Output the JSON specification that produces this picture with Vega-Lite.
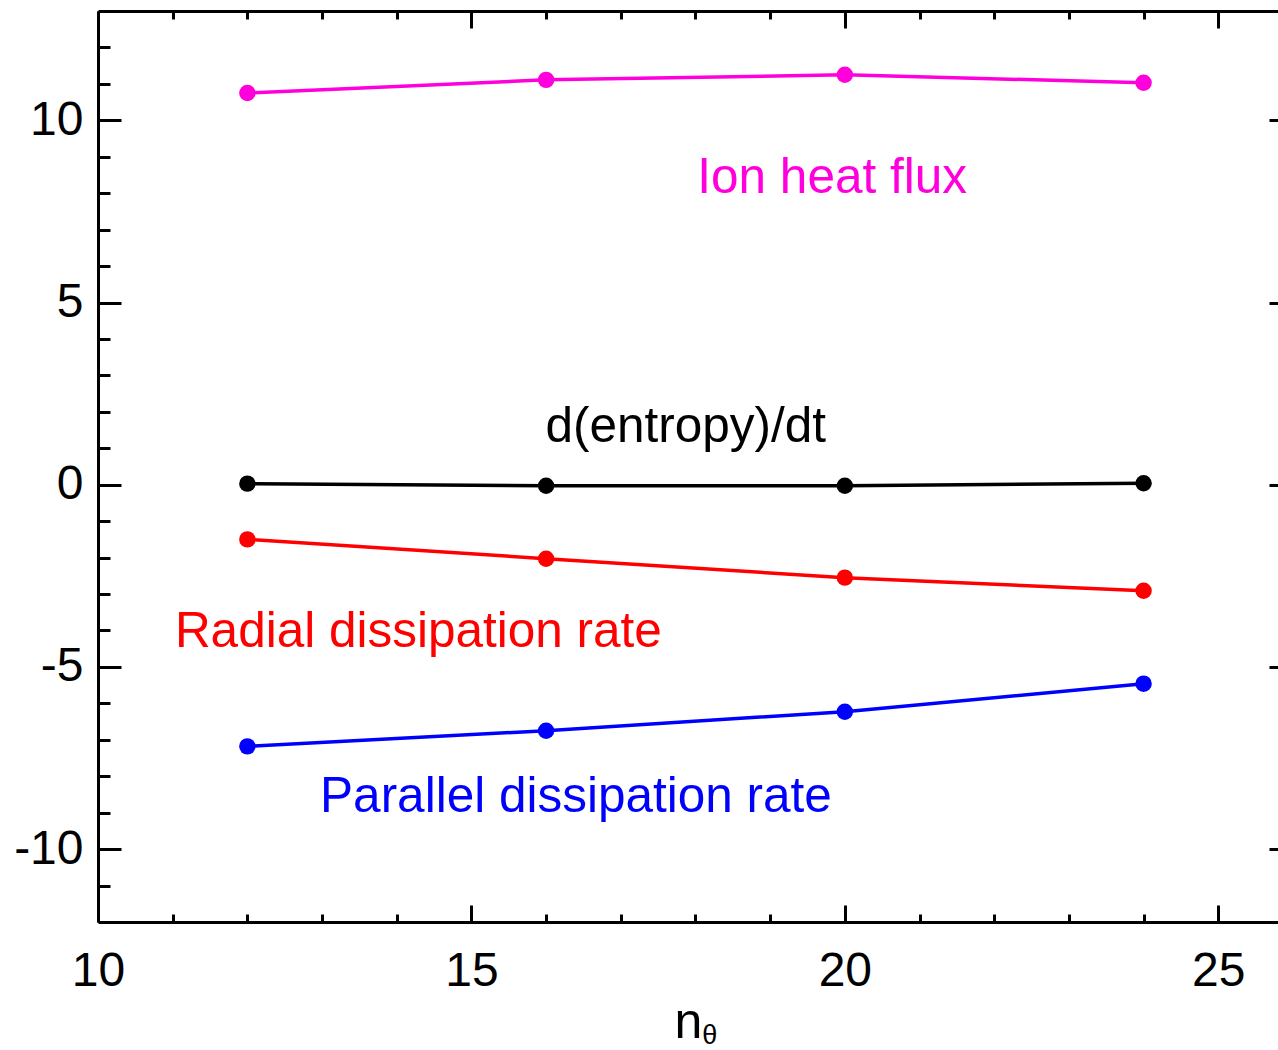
{
  "$schema": "https://vega.github.io/schema/vega-lite/v6.json",
  "width": 1180,
  "height": 911,
  "autosize": {"type": "none"},
  "padding": {"left": 98, "top": 11, "right": 0, "bottom": 128},
  "background": "white",
  "config": {
    "view": {"stroke": null},
    "font": "Liberation Sans",
    "axis": {
      "grid": false,
      "domainColor": "black",
      "tickColor": "black",
      "labelColor": "black",
      "titleColor": "black",
      "labelFont": "Liberation Sans",
      "titleFont": "Liberation Sans",
      "labelFlush": false,
      "labelOverlap": false,
      "tickWidth": 3,
      "domainWidth": 3
    }
  },
  "datasets": {
    "series": [
      {"series": "Ion heat flux", "n": 12, "value": 10.75},
      {"series": "Ion heat flux", "n": 16, "value": 11.11},
      {"series": "Ion heat flux", "n": 20, "value": 11.25},
      {"series": "Ion heat flux", "n": 24, "value": 11.03},
      {"series": "d(entropy)/dt", "n": 12, "value": 0.03},
      {"series": "d(entropy)/dt", "n": 16, "value": -0.03},
      {"series": "d(entropy)/dt", "n": 20, "value": -0.03},
      {"series": "d(entropy)/dt", "n": 24, "value": 0.04},
      {"series": "Radial dissipation rate", "n": 12, "value": -1.5},
      {"series": "Radial dissipation rate", "n": 16, "value": -2.03},
      {"series": "Radial dissipation rate", "n": 20, "value": -2.55},
      {"series": "Radial dissipation rate", "n": 24, "value": -2.91},
      {"series": "Parallel dissipation rate", "n": 12, "value": -7.18},
      {"series": "Parallel dissipation rate", "n": 16, "value": -6.75},
      {"series": "Parallel dissipation rate", "n": 20, "value": -6.23},
      {"series": "Parallel dissipation rate", "n": 24, "value": -5.46}
    ],
    "labels": [
      {"series": "Ion heat flux", "x": 19.83, "y": 8.01},
      {"series": "d(entropy)/dt", "x": 17.87, "y": 1.18},
      {"series": "Radial dissipation rate", "x": 14.29, "y": -4.44},
      {"series": "Parallel dissipation rate", "x": 16.4, "y": -8.97}
    ],
    "subscript": [
      {"text": "θ", "x": 18.19, "y": -15.36}
    ]
  },
  "layer": [
    {
      "mark": {"type": "rule", "strokeDash": [15, 16], "color": "#707070", "strokeWidth": 1.5},
      "encoding": {
        "y": {
          "datum": 0,
          "type": "quantitative",
          "scale": {"domain": [-12, 13], "nice": false, "zero": false},
          "axis": {
            "orient": "left",
            "values": [-10, -5, 0, 5, 10],
            "tickSize": -23,
            "labelFontSize": 48,
            "labelPadding": 38,
            "labelExpr": "datum.value + ''",
            "title": null
          }
        }
      }
    },
    {
      "data": {"name": "series"},
      "mark": {"type": "line", "strokeWidth": 3.5},
      "encoding": {
        "x": {
          "field": "n",
          "type": "quantitative",
          "scale": {"domain": [10, 25.8], "nice": false, "zero": false},
          "axis": {
            "orient": "bottom",
            "values": [10, 15, 20, 25],
            "tickSize": -17,
            "labelFontSize": 48,
            "labelPadding": 42,
            "labelExpr": "datum.value + ''",
            "title": "n",
            "titleFontSize": 50,
            "titleFontWeight": "normal",
            "titleBaseline": "alphabetic",
            "titleY": 115
          }
        },
        "y": {
          "field": "value",
          "type": "quantitative",
          "scale": {"domain": [-12, 13], "nice": false, "zero": false},
          "axis": {
            "orient": "left",
            "values": [-11, -9, -8, -7, -6, -4, -3, -2, -1, 1, 2, 3, 4, 6, 7, 8, 9, 11, 12],
            "tickSize": -12,
            "labels": false,
            "domain": false,
            "title": null
          }
        },
        "color": {
          "field": "series",
          "type": "nominal",
          "scale": {
            "domain": ["Ion heat flux", "d(entropy)/dt", "Radial dissipation rate", "Parallel dissipation rate"],
            "range": ["#ff00dd", "#000000", "#ff0000", "#0000ff"]
          },
          "legend": null
        }
      }
    },
    {
      "data": {"name": "series"},
      "mark": {"type": "point", "filled": true, "opacity": 1, "size": 270},
      "encoding": {
        "x": {
          "field": "n",
          "type": "quantitative",
          "scale": {"domain": [10, 25.8], "nice": false, "zero": false},
          "axis": {
            "orient": "bottom",
            "values": [11, 12, 13, 14, 16, 17, 18, 19, 21, 22, 23, 24],
            "tickSize": -8,
            "labels": false,
            "domain": false,
            "title": null
          }
        },
        "y": {
          "field": "value",
          "type": "quantitative",
          "scale": {"domain": [-12, 13], "nice": false, "zero": false},
          "axis": {
            "orient": "right",
            "values": [-10, -5, 0, 5, 10],
            "tickSize": -9,
            "labels": false,
            "domain": false,
            "title": null
          }
        },
        "color": {"field": "series", "type": "nominal", "legend": null}
      }
    },
    {
      "data": {"name": "labels"},
      "mark": {"type": "text", "fontSize": 49.5, "font": "Liberation Sans", "align": "center", "baseline": "alphabetic"},
      "encoding": {
        "x": {
          "field": "x",
          "type": "quantitative",
          "scale": {"domain": [10, 25.8], "nice": false, "zero": false},
          "axis": {
            "orient": "top",
            "values": [10, 15, 20, 25],
            "tickSize": -17,
            "labels": false,
            "title": null
          }
        },
        "y": {"field": "y", "type": "quantitative", "axis": null},
        "text": {"field": "series"},
        "color": {"field": "series", "type": "nominal", "legend": null}
      }
    },
    {
      "data": {"name": "subscript"},
      "mark": {"type": "text", "fontSize": 27, "font": "Liberation Sans", "align": "center", "baseline": "alphabetic", "color": "black"},
      "encoding": {
        "x": {
          "field": "x",
          "type": "quantitative",
          "axis": {
            "orient": "top",
            "values": [11, 12, 13, 14, 16, 17, 18, 19, 21, 22, 23, 24],
            "tickSize": -8,
            "labels": false,
            "domain": false,
            "title": null
          }
        },
        "y": {"field": "y", "type": "quantitative", "axis": null},
        "text": {"field": "text"}
      }
    }
  ],
  "resolve": {"axis": {"x": "independent", "y": "independent"}}
}
